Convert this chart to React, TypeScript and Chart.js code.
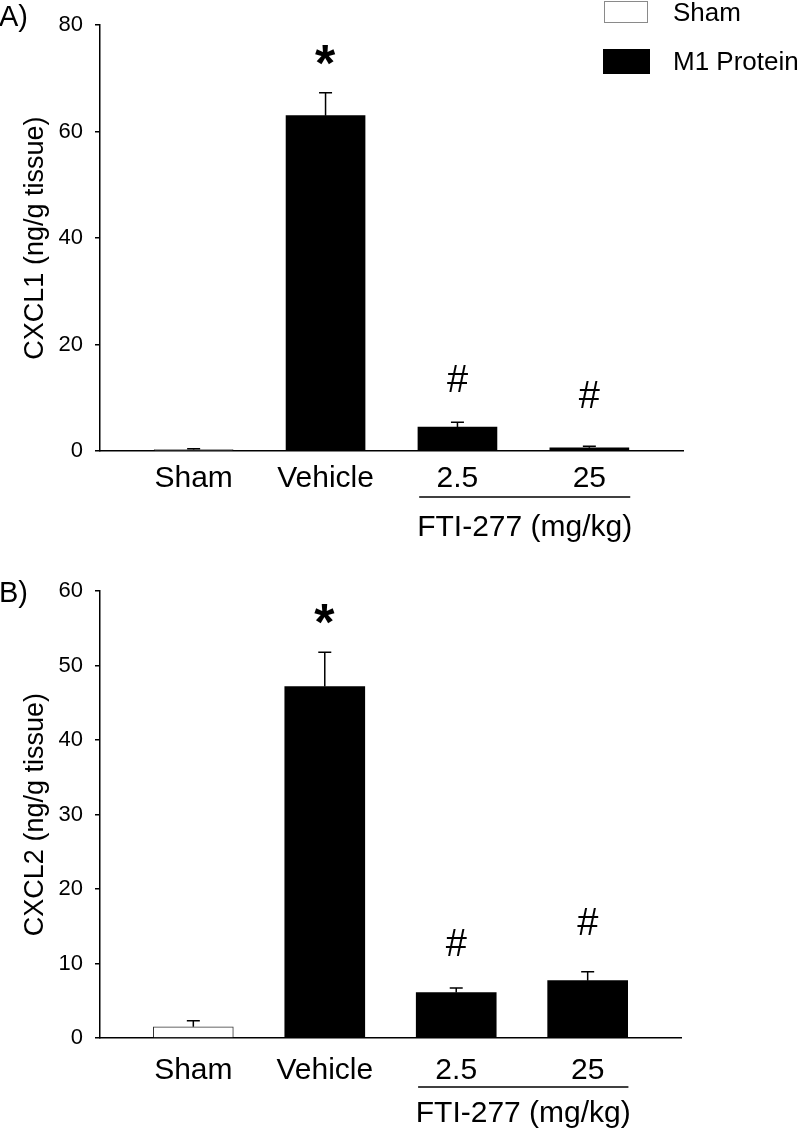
import React, { useEffect, useRef } from 'react';
import { Chart, registerables } from 'chart.js';

Chart.register(...registerables);

// ---------- data ----------
const categories = ['Sham', 'Vehicle', '2.5', '25'];
const groupLabel = 'FTI-277 (mg/kg)';
const legendLabels = ['Sham', 'M1 Protein'];

const cxcl1Title = 'CXCL1 (ng/g tissue)';
const cxcl1Means = [0.25, 63.0, 4.5, 0.6];
const cxcl1Errors = [0.15, 4.3, 0.9, 0.3];
const cxcl1Marks = ['', '*', '#', '#'];
const cxcl1Ticks = [0, 20, 40, 60, 80];

const cxcl2Title = 'CXCL2 (ng/g tissue)';
const cxcl2Means = [1.5, 47.2, 6.1, 7.7];
const cxcl2Errors = [0.8, 4.6, 0.6, 1.2];
const cxcl2Marks = ['', '*', '#', '#'];
const cxcl2Ticks = [0, 10, 20, 30, 40, 50, 60];

// ---------- style / layout ----------
const FAMILY = '"Liberation Sans", Arial, Helvetica, sans-serif';
Chart.defaults.font.family = FAMILY;
Chart.defaults.color = '#000';

type PanelCfg = {
  letter: string;
  title: string;
  means: number[];
  errors: number[];
  marks: string[];
  ticks: number[];
  showLegend: boolean;
  padTop: number;
  padRight: number;
  xAxisHeight: number;
  letterBaseline: number;
  markGaps: number[];
  labelPad: number;
  groupLineOffset: number;
  groupTextOffset: number;
  barWidth: number;
};

const panelA: PanelCfg = {
  letter: 'A)',
  title: cxcl1Title,
  means: cxcl1Means,
  errors: cxcl1Errors,
  marks: cxcl1Marks,
  ticks: cxcl1Ticks,
  showLegend: true,
  padTop: 22.5,
  padRight: 117,
  xAxisHeight: 115,
  letterBaseline: 26,
  markGaps: [0, 38, 44, 52],
  labelPad: 2,
  groupLineOffset: 46,
  groupTextOffset: 77,
  barWidth: 79,
};

const panelB: PanelCfg = {
  letter: 'B)',
  title: cxcl2Title,
  means: cxcl2Means,
  errors: cxcl2Errors,
  marks: cxcl2Marks,
  ticks: cxcl2Ticks,
  showLegend: false,
  padTop: 25,
  padRight: 119,
  xAxisHeight: 94,
  letterBaseline: 36,
  markGaps: [0, 38, 46, 50],
  labelPad: 7,
  groupLineOffset: 49,
  groupTextOffset: 76,
  barWidth: 80,
};

function drawCenteredGlyph(ctx: CanvasRenderingContext2D, text: string, font: string, cx: number, cy: number) {
  ctx.save();
  ctx.font = font;
  ctx.textAlign = 'left';
  ctx.textBaseline = 'alphabetic';
  const m = ctx.measureText(text);
  const L = m.actualBoundingBoxLeft;
  const R = m.actualBoundingBoxRight;
  const A = m.actualBoundingBoxAscent;
  const D = m.actualBoundingBoxDescent;
  const x = cx - (R - L) / 2;
  const y = cy + (A - D) / 2;
  ctx.fillStyle = '#000';
  ctx.fillText(text, x, y);
  ctx.restore();
}

function Panel({ cfg }: { cfg: PanelCfg }) {
  const ref = useRef<HTMLCanvasElement | null>(null);

  useEffect(() => {
    const canvas = ref.current;
    if (!canvas) return;

    const extras = {
      id: 'extras',
      afterDatasetsDraw(chart: any) {
        const ctx: CanvasRenderingContext2D = chart.ctx;
        const xs = chart.scales.x;
        const ys = chart.scales.y;
        ctx.save();
        ctx.strokeStyle = '#000';
        ctx.lineWidth = 1.5;
        cfg.means.forEach((m, i) => {
          const x = xs.getPixelForValue(i);
          const yb = ys.getPixelForValue(m);
          const yt = ys.getPixelForValue(m + cfg.errors[i]);
          ctx.beginPath();
          ctx.moveTo(x, yb);
          ctx.lineTo(x, yt);
          ctx.moveTo(x - 6.5, yt);
          ctx.lineTo(x + 6.5, yt);
          ctx.stroke();
          const mark = cfg.marks[i];
          if (mark) {
            const font = mark === '*' ? `bold 52px ${FAMILY}` : `38px ${FAMILY}`;
            drawCenteredGlyph(ctx, mark, font, x, yt - cfg.markGaps[i]);
          }
        });
        ctx.restore();
      },
      afterDraw(chart: any) {
        const ctx: CanvasRenderingContext2D = chart.ctx;
        const xs = chart.scales.x;
        const area = chart.chartArea;
        ctx.save();
        const x1 = xs.getPixelForValue(1.71);
        const x2 = xs.getPixelForValue(3.31);
        const gy = area.bottom + cfg.groupLineOffset;
        ctx.strokeStyle = '#000';
        ctx.lineWidth = 1.5;
        ctx.beginPath();
        ctx.moveTo(x1, gy);
        ctx.lineTo(x2, gy);
        ctx.stroke();
        ctx.fillStyle = '#000';
        ctx.font = `30px ${FAMILY}`;
        ctx.textAlign = 'center';
        ctx.textBaseline = 'middle';
        ctx.fillText(groupLabel, (x1 + x2) / 2, area.bottom + cfg.groupTextOffset);
        ctx.textAlign = 'left';
        ctx.textBaseline = 'alphabetic';
        ctx.font = `29px ${FAMILY}`;
        ctx.fillText(cfg.letter, -1, cfg.letterBaseline);
        if (cfg.showLegend) {
          ctx.lineWidth = 1;
          ctx.fillStyle = '#fff';
          ctx.strokeStyle = '#8a8a8a';
          ctx.fillRect(604.5, 1.5, 43, 21);
          ctx.strokeRect(604.5, 1.5, 43, 21);
          ctx.fillStyle = '#000';
          ctx.fillRect(603, 49, 47, 25);
          ctx.font = `26px ${FAMILY}`;
          ctx.textBaseline = 'middle';
          ctx.fillText(legendLabels[0], 673, 14);
          ctx.fillText(legendLabels[1], 673, 63);
        }
        ctx.restore();
      },
    };

    const chart = new Chart(canvas, {
      type: 'bar',
      data: {
        datasets: [
          {
            label: legendLabels[0],
            data: [{ x: 0, y: cfg.means[0] }],
            backgroundColor: '#ffffff',
            borderColor: '#333333',
            borderWidth: 1,
            barThickness: cfg.barWidth,
            grouped: false,
          } as any,
          {
            label: legendLabels[1],
            data: [1, 2, 3].map((i) => ({ x: i, y: cfg.means[i] })),
            backgroundColor: '#000000',
            borderColor: '#000000',
            borderWidth: 0,
            barThickness: cfg.barWidth,
            grouped: false,
          } as any,
        ],
      },
      options: {
        animation: false,
        responsive: false,
        maintainAspectRatio: false,
        layout: { padding: { left: 0, right: cfg.padRight, top: cfg.padTop, bottom: 0 } },
        plugins: { legend: { display: false }, tooltip: { enabled: false }, title: { display: false } },
        scales: {
          x: {
            type: 'linear',
            offset: false,
            min: -0.71,
            max: 3.71,
            grid: { display: false, offset: false },
            border: { display: true, color: '#000', width: 1.5 },
            afterBuildTicks: (axis: any) => {
              axis.ticks = categories.map((_, i) => ({ value: i }));
            },
            afterFit: (s: any) => {
              s.height = cfg.xAxisHeight;
            },
            ticks: {
              autoSkip: false,
              maxRotation: 0,
              minRotation: 0,
              padding: cfg.labelPad,
              color: '#000',
              font: { size: 30 },
              callback: (v: any) => categories[Math.round(Number(v))] ?? '',
            },
          },
          y: {
            type: 'linear',
            min: cfg.ticks[0],
            max: cfg.ticks[cfg.ticks.length - 1],
            afterBuildTicks: (axis: any) => {
              axis.ticks = cfg.ticks.map((v) => ({ value: v }));
            },
            afterFit: (s: any) => {
              s.width = 100;
            },
            grid: {
              display: true,
              drawOnChartArea: false,
              drawTicks: true,
              tickLength: 5,
              color: '#000',
              lineWidth: 1.5,
            },
            border: { display: true, color: '#000', width: 1.5 },
            ticks: { padding: 12, color: '#000', font: { size: 22 } },
            title: {
              display: true,
              text: cfg.title,
              color: '#000',
              font: { size: 27 },
              padding: { top: 19, bottom: 0 },
            },
          },
        },
      },
      plugins: [extras],
    } as any);

    return () => chart.destroy();
  }, [cfg]);

  return (
    <canvas
      ref={ref}
      width={800}
      height={566}
      style={{ display: 'block', width: 800, height: 566 }}
    />
  );
}

export default function App() {
  return (
    <div
      style={{
        position: 'absolute',
        left: 0,
        top: 0,
        width: 800,
        height: 1132,
        background: '#fff',
        overflow: 'hidden',
      }}
    >
      <Panel cfg={panelA} />
      <Panel cfg={panelB} />
    </div>
  );
}
